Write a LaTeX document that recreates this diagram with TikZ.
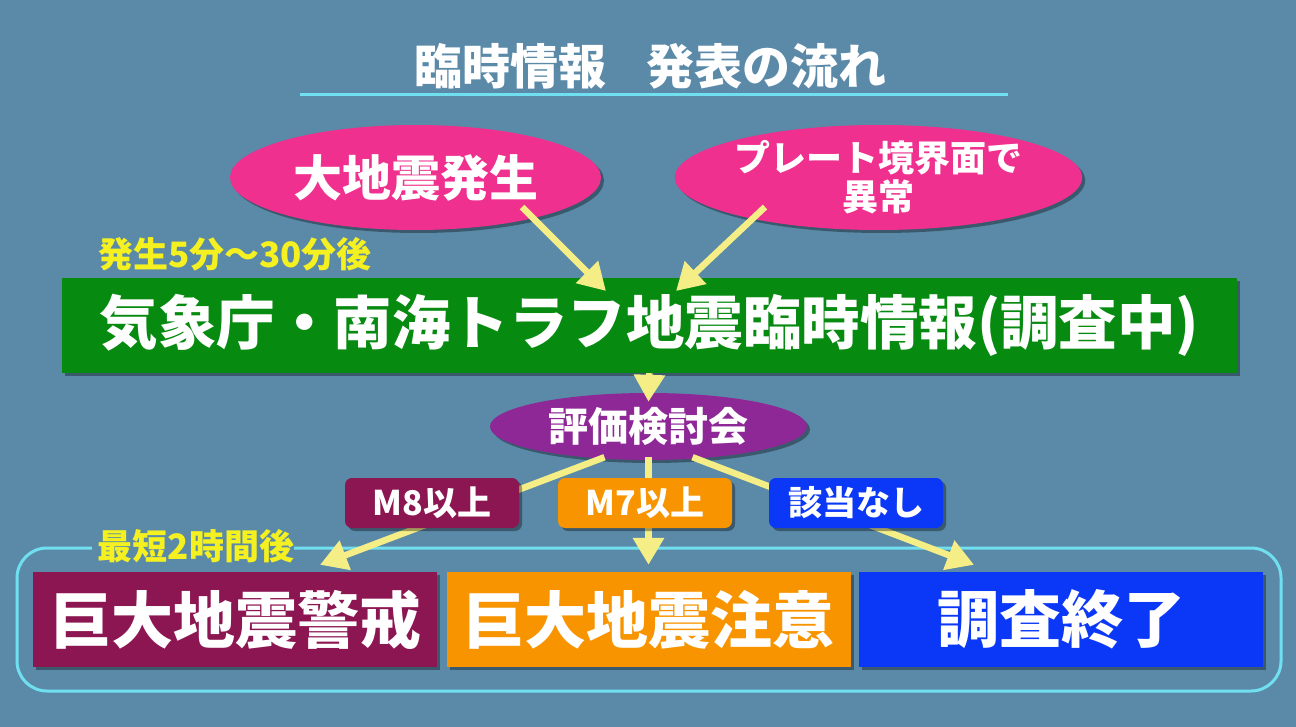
\documentclass[tikz,border=0pt]{standalone}
\usepackage{fontspec}
\setmainfont{Noto Sans CJK JP}
\usetikzlibrary{arrows.meta,shapes.geometric,shadows,calc}
\definecolor{bgc}{HTML}{5A8AA8}
\definecolor{pinkc}{HTML}{F0308E}
\definecolor{greenc}{HTML}{078A10}
\definecolor{purplec}{HTML}{8E2896}
\definecolor{maroonc}{HTML}{8C1652}
\definecolor{orangec}{HTML}{F79400}
\definecolor{bluec}{HTML}{0A38F6}
\definecolor{arrowc}{HTML}{F5EE86}
\definecolor{yellowc}{HTML}{F5F020}
\definecolor{cyanc}{HTML}{70E0F0}
\tikzset{
  shd/.style={drop shadow={shadow xshift=3pt,shadow yshift=-3pt,opacity=0.35,fill=black}},
  ell/.style={ellipse, inner sep=0pt, text=white, font=\bfseries, align=center, shd},
  bigbox/.style={rectangle, inner sep=0pt, text=white, font=\bfseries\fontsize{62pt}{66pt}\selectfont, minimum width=404pt, minimum height=95pt, shd},
  lbl/.style={rectangle, rounded corners=7pt, inner sep=0pt, text=white, font=\bfseries\fontsize{34pt}{36pt}\selectfont, minimum width=174pt, minimum height=50pt, shd},
  yel/.style={text=yellowc, font=\bfseries\fontsize{35pt}{38pt}\selectfont, inner sep=0pt},
  arr/.style={draw=arrowc, line width=6.5pt, -{Triangle[length=27pt,width=30pt]}},
  cyanline/.style={draw=cyanc, line width=3pt}
}
\begin{document}
\begin{tikzpicture}[x=1pt,y=-1pt]
\fill[bgc] (0,0) rectangle (1296,727);
\useasboundingbox (0,0) rectangle (1296,727);
% title
\node[text=white, font=\bfseries\fontsize{48pt}{50pt}\selectfont, inner sep=0pt] (title) at (650,66) {臨時情報\hspace{-8pt}　発表の流れ};
\coordinate (ul1) at (300,95);
\coordinate (ul2) at (1008,95);
\draw[cyanline] (ul1) -- (ul2);
% bottom frame
\draw[cyanline, rounded corners=30pt] (17,548) rectangle (1281,691);
\node[fill=bgc, inner xsep=14pt, inner ysep=2pt, yel] (short) at (193,546) {\hspace{6pt}最短2時間後\hspace{6pt}};
% top ellipses
\node[ell, fill=pinkc, minimum width=371pt, minimum height=105pt, font=\bfseries\fontsize{49pt}{52pt}\selectfont] (e1) at (415.5,177.5) {大地震発生};
\node[ell, fill=pinkc, minimum width=371pt, minimum height=105pt, font=\bfseries\fontsize{36pt}{39pt}\selectfont] (e2) at (878.5,177.5) {プレート境界面で\\異常};
\node[yel] (t530) at (235,254) {発生5分～30分後};
% green box
\node[rectangle, fill=greenc, inner sep=0pt, minimum width=1175pt, minimum height=95pt, text=white, font=\bfseries\fontsize{58.5pt}{62pt}\selectfont, shd] (jma) at (649.5,325.5) {気象庁・南海トラフ地震臨時情報(調査中)};
% evaluation ellipse
\node[ell, fill=purplec, minimum width=317pt, minimum height=67pt, font=\bfseries\fontsize{40pt}{44pt}\selectfont] (eval) at (648.5,426.5) {評価検討会};
% bottom boxes
\node[bigbox, fill=maroonc] (warn) at (235,619.5) {巨大地震警戒};
\node[bigbox, fill=orangec] (care) at (648.5,619.5) {巨大地震注意};
\node[bigbox, fill=bluec] (done) at (1061,619.5) {調査終了};
% arrows
\coordinate (a1s) at (522,207);
\coordinate (a1e) at (606,291);
\coordinate (a2s) at (765,207);
\coordinate (a2e) at (676,291);
\draw[arr] (a1s) -- (a1e);
\draw[arr] (a2s) -- (a2e);
\draw[arr] (jma.south) -- ($(eval.north)+(0,9)$);
\draw[arr] ($(eval.south)+(-44,-3)$) -- ($(warn.north)+(85,-7)$);
\draw[arr] ($(eval.south)+(0,-3)$) -- ($(care.north)+(0,-7)$);
\draw[arr] ($(eval.south)+(44,-3)$) -- ($(done.north)+(-87,-7)$);
% labels
\node[lbl, fill=maroonc] (m8) at (432,503) {M8以上};
\node[lbl, fill=orangec] (m7) at (645,503) {M7以上};
\node[lbl, fill=bluec] (none) at (856,503) {該当なし};
\end{tikzpicture}
\end{document}
